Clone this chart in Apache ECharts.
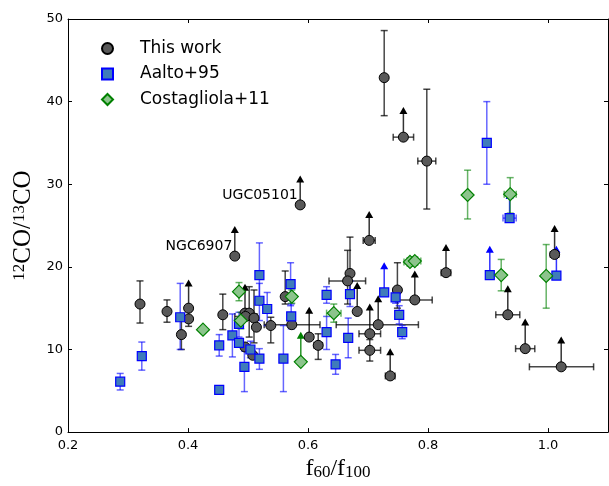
<!DOCTYPE html>
<html><head><meta charset="utf-8">
<script src="https://cdn.jsdelivr.net/npm/echarts@6/dist/echarts.min.js"></script>
<style>html,body{margin:0;padding:0;background:#fff}#c{width:609px;height:486px}</style>
</head><body><div id="c"></div>
<script>
// columns: x, y, yLow, yHigh, xLow, xHigh, lowerLimitArrowTop
const thisWork = [
  [0.320, 15.5, 13.2, 18.3, null, null, null],
  [0.365, 14.6, 13.3, 16.0, null, null, null],
  [0.389, 11.8, 10.0, 13.9, null, null, null],
  [0.401, 15.0, null, null, null, null, 18.4],
  [0.401, 13.7, 12.8, 14.6, null, null, null],
  [0.458, 14.2, 12.4, 16.7, null, null, null],
  [0.478, 21.3, null, null, null, null, 24.9],
  [0.495, 14.4, null, null, null, null, 17.9],
  [0.502, 14.4, 11.5, 17.6, null, null, null],
  [0.496, 14.0, null, null, 0.478, 0.515, null],
  [0.510, 13.8, 10.8, 17.2, null, null, null],
  [0.514, 12.7, null, null, null, null, null],
  [0.495, 10.3, null, null, null, null, null],
  [0.508, 9.3, null, null, null, null, null],
  [0.538, 12.9, 10.8, 13.9, null, null, null],
  [0.562, 16.4, 15.5, 19.5, null, null, null],
  [0.573, 13.0, null, null, 0.527, 0.620, null],
  [0.587, 27.5, null, null, null, null, 31.0],
  [0.602, 11.5, null, null, null, null, 15.1],
  [0.617, 10.5, 8.8, 11.9, 0.610, 0.624, null],
  [0.670, 19.2, 16.5, 23.6, null, null, null],
  [0.666, 18.3, 15.5, 22.0, 0.635, 0.696, null],
  [0.682, 14.6, null, null, null, null, 18.1],
  [0.702, 23.2, null, null, 0.692, 0.712, 26.7],
  [0.703, 11.9, null, null, 0.685, 0.721, 15.5],
  [0.703, 9.9, 8.6, 11.2, 0.685, 0.721, null],
  [0.717, 13.0, null, null, 0.647, 0.784, 16.5],
  [0.727, 42.9, 38.3, 48.6, null, null, null],
  [0.737, 6.8, null, null, 0.729, 0.745, 10.1],
  [0.749, 17.2, 15.0, 20.5, null, null, null],
  [0.759, 35.7, null, null, 0.742, 0.776, 39.3],
  [0.778, 16.0, null, null, 0.749, 0.807, 19.5],
  [0.798, 32.8, 27.0, 41.5, 0.783, 0.813, null],
  [0.830, 19.3, null, null, 0.822, 0.838, 22.7],
  [0.933, 14.2, null, null, 0.913, 0.953, 17.7],
  [0.962, 10.1, null, null, 0.946, 0.978, 13.7],
  [1.011, 21.5, null, null, 1.004, 1.018, 25.0],
  [1.022, 7.9, null, null, 0.969, 1.076, 11.5]
];
const aalto95 = [
  [0.287, 6.1, 5.1, 7.1, null, null, null],
  [0.323, 9.2, 7.5, 10.9, null, null, null],
  [0.387, 13.9, 10.0, 18.0, null, null, null],
  [0.452, 10.5, 9.2, 11.8, null, null, null],
  [0.452, 5.1, null, null, null, null, null],
  [0.474, 11.7, 9.1, 14.3, null, null, null],
  [0.485, 13.1, 11.5, 14.5, null, null, null],
  [0.485, 10.8, null, null, null, null, null],
  [0.494, 7.9, 4.9, 9.8, null, null, null],
  [0.504, 10.0, 9.0, 11.0, null, null, null],
  [0.519, 15.9, 13.5, 18.0, null, null, null],
  [0.519, 19.0, 15.5, 22.9, null, null, null],
  [0.532, 14.9, 12.9, 16.9, null, null, null],
  [0.519, 8.9, 7.6, 10.1, null, null, null],
  [0.559, 8.9, 4.9, 12.9, null, null, null],
  [0.571, 17.9, 15.3, 20.5, null, null, null],
  [0.572, 14.0, 12.5, 15.5, null, null, null],
  [0.631, 16.6, 15.6, 17.6, null, null, null],
  [0.631, 12.1, 10.0, 14.0, null, null, null],
  [0.646, 8.2, 7.0, 9.4, null, null, null],
  [0.667, 11.4, 9.0, 13.8, null, null, null],
  [0.670, 16.7, 15.2, 18.3, null, null, null],
  [0.727, 16.9, null, null, null, null, 20.5],
  [0.746, 16.3, 15.6, 17.0, null, null, null],
  [0.752, 14.2, 13.1, 15.3, null, null, null],
  [0.757, 12.1, 11.3, 12.9, null, null, null],
  [0.898, 35.0, 30.0, 40.0, null, null, null],
  [0.903, 19.0, null, null, null, null, 22.5],
  [0.936, 25.9, null, null, 0.925, 0.947, 29.0],
  [1.014, 18.95, null, null, null, null, 22.5]
];
const costagliola11 = [
  [0.425, 12.4, null, null, null, null, null],
  [0.485, 17.0, 15.9, 18.1, null, null, null],
  [0.488, 13.5, 12.5, 14.5, null, null, null],
  [0.573, 16.4, 15.6, 17.2, null, null, null],
  [0.588, 8.5, null, null, null, null, 12.1],
  [0.643, 14.4, 13.3, 15.5, 0.631, 0.655, null],
  [0.770, 20.6, 20.1, 21.1, 0.760, 0.780, null],
  [0.778, 20.7, 20.2, 21.2, 0.768, 0.788, null],
  [0.866, 28.7, 25.8, 31.7, null, null, null],
  [0.937, 28.8, 26.5, 30.8, 0.927, 0.947, null],
  [0.922, 19.0, 17.1, 20.9, null, null, null],
  [0.997, 18.9, 15.0, 22.7, null, null, null]
];
const annotations = [
  { name: 'UGC05101', x: 0.587, y: 27.5 },
  { name: 'NGC6907', x: 0.478, y: 21.3 }
];
const seriesNames = ['This work', 'Aalto+95', 'Costagliola+11'];

const FONT = 'DejaVu Sans';
const SERIF = 'Liberation Serif';

function makeRender(lineColor, arrowLine, arrowHead) {
  return function (params, api) {
    const v = i => api.value(i);
    const x = v(0), y = v(1);
    const kids = [];
    const cap = 3.5;
    const ls = { stroke: lineColor, lineWidth: 1.5 };
    const seg = (a, b, st) => kids.push({ type: 'line', shape: { x1: a[0], y1: a[1], x2: b[0], y2: b[1] }, style: st || ls });
    if (!isNaN(v(2)) && !isNaN(v(3))) {
      const lo = api.coord([x, v(2)]), hi = api.coord([x, v(3)]);
      seg(lo, hi);
      seg([lo[0] - cap, lo[1]], [lo[0] + cap, lo[1]]);
      seg([hi[0] - cap, hi[1]], [hi[0] + cap, hi[1]]);
    }
    if (!isNaN(v(4)) && !isNaN(v(5))) {
      const l = api.coord([v(4), y]), r = api.coord([v(5), y]);
      seg(l, r);
      seg([l[0], l[1] - cap], [l[0], l[1] + cap]);
      seg([r[0], r[1] - cap], [r[0], r[1] + cap]);
    }
    if (!isNaN(v(6))) {
      const p = api.coord([x, y]), t = api.coord([x, v(6)]);
      seg(p, [t[0], t[1] + 4], { stroke: arrowLine, lineWidth: 1.5 });
      kids.push({ type: 'polygon', shape: { points: [[t[0], t[1] - 0.5], [t[0] - 4, t[1] + 6.5], [t[0] + 4, t[1] + 6.5]] }, style: { fill: arrowHead } });
    }
    return { type: 'group', children: kids };
  };
}

function errSeries(data, lineColor, arrowLine, arrowHead) {
  return {
    type: 'custom', name: '_err', silent: true,
    renderItem: makeRender(lineColor, arrowLine, arrowHead),
    encode: { x: 0, y: 1 },
    data: data
  };
}

const twData = thisWork.map(r => {
  const a = annotations.find(q => q.x === r[0] && q.y === r[1]);
  const item = { value: [r[0], r[1]] };
  if (a) {
    item.label = {
      show: true, formatter: a.name, position: 'left', distance: 0, offset: [3, -10],
      color: '#000', fontFamily: FONT, fontSize: 14
    };
  }
  return item;
});

const chart = echarts.init(document.getElementById('c'), null, { renderer: 'canvas' });
chart.setOption({
  animation: false,
  backgroundColor: '#fff',
  textStyle: { fontFamily: FONT },
  grid: { left: 68, right: 1, top: 19, bottom: 50, containLabel: false },
  legend: {
    data: seriesNames,
    orient: 'vertical', left: 96, top: 35,
    itemWidth: 11, itemHeight: 11, itemGap: 8.5,
    textStyle: { fontSize: 17, lineHeight: 17, color: '#000', fontFamily: FONT, padding: [0, 0, 0, 22] }
  },
  xAxis: [{
    type: 'value', min: 0.2, max: 1.1, interval: 0.2, position: 'bottom',
    axisLine: { show: true, onZero: false, lineStyle: { color: '#000', width: 1 } },
    axisTick: { show: true, inside: true, length: 4, lineStyle: { color: '#000' } },
    axisLabel: { show: true, showMaxLabel: false, margin: 7, fontSize: 13, color: '#000', fontFamily: FONT,
      formatter: v => (Math.abs(v - 1.1) < 1e-6 ? '' : v.toFixed(1)) },
    splitLine: { show: false },
    name: '{m|f}{s|60}{m|/f}{s|100}', nameLocation: 'middle', nameGap: 22,
    nameTextStyle: { rich: {
      m: { fontFamily: SERIF, fontSize: 24, lineHeight: 24, color: '#000', verticalAlign: 'middle' },
      s: { fontFamily: SERIF, fontSize: 17, lineHeight: 10, color: '#000', verticalAlign: 'bottom' }
    } }
  }, {
    type: 'value', min: 0.2, max: 1.1, interval: 0.2, position: 'top',
    axisLine: { show: true, onZero: false, lineStyle: { color: '#000', width: 1 } },
    axisTick: { show: true, inside: true, length: 4, lineStyle: { color: '#000' } },
    axisLabel: { show: false }, splitLine: { show: false }
  }],
  yAxis: [{
    type: 'value', min: 0, max: 50, interval: 10, position: 'left',
    axisLine: { show: true, onZero: false, lineStyle: { color: '#000', width: 1 } },
    axisTick: { show: true, inside: true, length: 4, lineStyle: { color: '#000' } },
    axisLabel: { show: true, margin: 5, fontSize: 13, color: '#000', fontFamily: FONT },
    splitLine: { show: false },
    name: '{s|12}{m|CO/}{s|13}{m|CO}', nameLocation: 'middle', nameGap: 28,
    nameTextStyle: { rich: {
      m: { fontFamily: SERIF, fontSize: 25, lineHeight: 25, color: '#000', verticalAlign: 'middle' },
      s: { fontFamily: SERIF, fontSize: 17, lineHeight: 6, color: '#000', verticalAlign: 'top' }
    } }
  }, {
    type: 'value', min: 0, max: 50, interval: 10, position: 'right',
    axisLine: { show: true, onZero: false, lineStyle: { color: '#000', width: 1 } },
    axisTick: { show: true, inside: true, length: 4, lineStyle: { color: '#000' } },
    axisLabel: { show: false }, splitLine: { show: false }
  }],
  series: [
    errSeries(thisWork, 'rgba(0,0,0,0.72)', 'rgba(0,0,0,0.8)', '#000'),
    {
      type: 'scatter', name: seriesNames[0], symbol: 'circle', symbolSize: 10,
      itemStyle: { color: '#595959', borderColor: '#000', borderWidth: 1, opacity: 1 },
      data: twData
    },
    errSeries(aalto95, 'rgba(0,0,255,0.6)', 'rgba(0,0,255,0.8)', '#0000ff'),
    {
      type: 'scatter', name: seriesNames[1], symbol: 'rect', symbolSize: 9,
      itemStyle: { color: '#3f7cba', borderColor: '#0000ff', borderWidth: 1.2, opacity: 1 },
      data: aalto95.map(r => [r[0], r[1]])
    },
    errSeries(costagliola11, 'rgba(0,128,0,0.6)', 'rgba(0,128,0,0.85)', '#008000'),
    {
      type: 'scatter', name: seriesNames[2], symbol: 'diamond', symbolSize: 13,
      itemStyle: { color: '#8cc48c', borderColor: '#008000', borderWidth: 1.2, opacity: 1 },
      data: costagliola11.map(r => [r[0], r[1]])
    }
  ]
});
</script>
</body></html>
